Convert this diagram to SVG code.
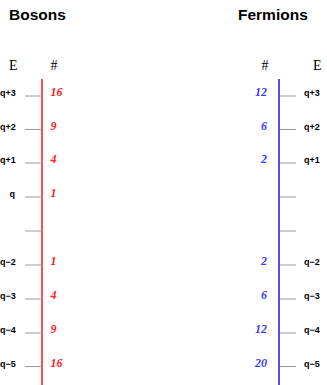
<svg xmlns="http://www.w3.org/2000/svg" width="327" height="385" viewBox="0 0 327 385">
<style>
.title{font-family:"Liberation Sans",Arial,sans-serif;font-weight:bold;font-size:15.5px;fill:#000}
.hdr{font-family:"Liberation Serif","Times New Roman",serif;font-size:14px;fill:#000}
.lbl{font-family:"Liberation Sans",Arial,sans-serif;font-weight:bold;font-size:9px;fill:#000}
.num{font-family:"Liberation Serif","Times New Roman",serif;font-weight:bold;font-style:italic;font-size:12px}
.r{fill:#ff2020}
.b{fill:#3b3bff}
.tick{stroke:#9a9a9a;stroke-width:1}
</style>
<rect width="327" height="385" fill="#fff"/>
<g id="bosons">
<text class="title" x="9" y="20">Bosons</text>
<text class="hdr" x="9" y="70">E</text>
<text class="hdr" x="50.5" y="70">#</text>
<line x1="42" y1="79" x2="42" y2="385" stroke="#ff2020" stroke-width="1.6"/>
<g class="tick">
<line x1="25" y1="96" x2="42" y2="96"/>
<line x1="25" y1="129.5" x2="42" y2="129.5"/>
<line x1="25" y1="163" x2="42" y2="163"/>
<line x1="25" y1="197" x2="42" y2="197"/>
<line x1="25" y1="231" x2="42" y2="231"/>
<line x1="25" y1="265" x2="42" y2="265"/>
<line x1="25" y1="299" x2="42" y2="299"/>
<line x1="25" y1="333" x2="42" y2="333"/>
<line x1="25" y1="366.5" x2="42" y2="366.5"/>
</g>
<g class="lbl" text-anchor="end">
<text x="15.7" y="96">q+3</text>
<text x="15.7" y="129.5">q+2</text>
<text x="15.7" y="163">q+1</text>
<text x="15" y="197">q</text>
<text x="15.7" y="265">q−2</text>
<text x="15.7" y="299">q−3</text>
<text x="15.7" y="333">q−4</text>
<text x="15.7" y="366.5">q−5</text>
</g>
<g class="num r">
<text x="50.5" y="96">16</text>
<text x="50.5" y="129.5">9</text>
<text x="50.5" y="163">4</text>
<text x="50.5" y="197">1</text>
<text x="50.5" y="265">1</text>
<text x="50.5" y="299">4</text>
<text x="50.5" y="333">9</text>
<text x="50.5" y="366.5">16</text>
</g>
</g>
<g id="fermions">
<text class="title" x="238" y="20">Fermions</text>
<text class="hdr" x="261.5" y="70">#</text>
<text class="hdr" x="313" y="70">E</text>
<line x1="279" y1="79" x2="279" y2="385" stroke="#5050ff" stroke-width="2"/>
<g class="tick">
<line x1="280" y1="96" x2="296" y2="96"/>
<line x1="280" y1="129.5" x2="296" y2="129.5"/>
<line x1="280" y1="163" x2="296" y2="163"/>
<line x1="280" y1="197" x2="296" y2="197"/>
<line x1="280" y1="231" x2="296" y2="231"/>
<line x1="280" y1="265" x2="296" y2="265"/>
<line x1="280" y1="299" x2="296" y2="299"/>
<line x1="280" y1="333" x2="296" y2="333"/>
<line x1="280" y1="366.5" x2="296" y2="366.5"/>
</g>
<g class="lbl">
<text x="304" y="96">q+3</text>
<text x="304" y="129.5">q+2</text>
<text x="304" y="163">q+1</text>
<text x="304" y="265">q−2</text>
<text x="304" y="299">q−3</text>
<text x="304" y="333">q−4</text>
<text x="304" y="366.5">q−5</text>
</g>
<g class="num b" text-anchor="end">
<text x="267" y="96">12</text>
<text x="267" y="129.5">6</text>
<text x="267" y="163">2</text>
<text x="267" y="265">2</text>
<text x="267" y="299">6</text>
<text x="267" y="333">12</text>
<text x="267" y="366.5">20</text>
</g>
</g>
</svg>
